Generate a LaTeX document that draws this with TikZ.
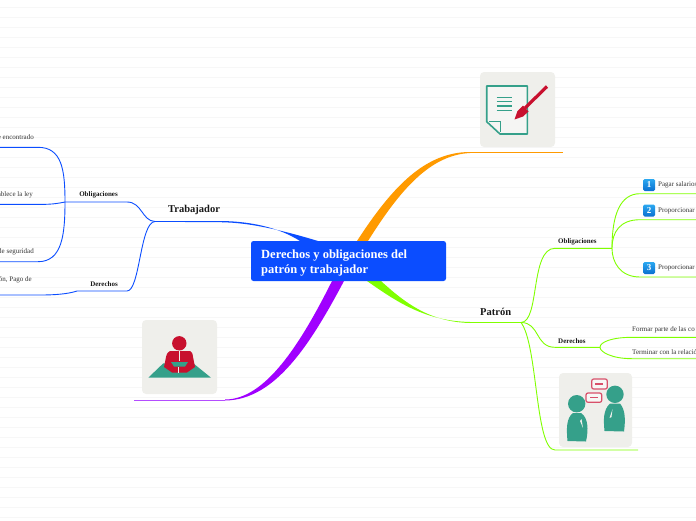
\documentclass[tikz,border=0pt]{standalone}
\usepackage{fontspec}
\setmainfont{Liberation Serif}
\definecolor{rootblue}{HTML}{0B4DFF}
\definecolor{branchorange}{HTML}{FF9A00}
\definecolor{branchgreen}{HTML}{80FF00}
\definecolor{branchpurple}{HTML}{A000FF}
\definecolor{tipline}{HTML}{B44DFF}
\definecolor{panelgrey}{HTML}{EFEFEB}
\definecolor{iconteal}{HTML}{35A08A}
\definecolor{iconred}{HTML}{C8102E}
\definecolor{bubblered}{HTML}{D8506A}
\definecolor{badgetop}{HTML}{2BA8F0}
\definecolor{badgebottom}{HTML}{0A6FD0}
\definecolor{ruled}{HTML}{F7F7F7}
\tikzset{
	topic/.style={inner sep=0pt, font=\fontsize{10.5}{12}\selectfont\bfseries, text=black!90},
	subtopic/.style={inner sep=0pt, font=\fontsize{7}{8}\selectfont\bfseries, text=black!90},
	leaf/.style={inner sep=0pt, font=\fontsize{7}{8}\selectfont, text=black!80},
	twig/.style={line width=0.9pt},
	panel/.style={fill=panelgrey, rounded corners=4pt},
	badge/.style={top color=badgetop, bottom color=badgebottom, rounded corners=1.5pt, minimum size=12pt, inner sep=0pt, text=white, font=\fontsize{9}{9}\selectfont\bfseries},
}
\begin{document}
\begin{tikzpicture}[x=1pt, y=-1pt]
	\useasboundingbox (0,0) rectangle (696,520);
	\foreach \ruley in {7.5,17.5,...,517.5}
		\draw[ruled, line width=0.7pt] (0,\ruley) -- (696,\ruley);

	\coordinate (trabJ) at (155,221.5);
	\coordinate (trabO) at (127,202);
	\coordinate (trabD) at (127,291);
	\coordinate (obliJ) at (65,202);
	\coordinate (obliA) at (38,147.3);
	\coordinate (obliB) at (38,204.4);
	\coordinate (obliC) at (38,261.7);
	\coordinate (obliAe) at (0,147.3);
	\coordinate (obliBe) at (0,204.4);
	\coordinate (obliCe) at (0,261.7);
	\coordinate (derJ) at (77,291);
	\coordinate (derE) at (0,295);
	\coordinate (patrJ) at (521,322.5);
	\coordinate (patrO) at (555,248.3);
	\coordinate (patrOJ) at (612,248.3);
	\coordinate (patrD) at (555,347.3);
	\coordinate (patrDJ) at (600,347.3);
	\coordinate (patrI) at (555,450);
	\coordinate (patrIe) at (638,450);
	\coordinate (uno) at (640,193.7);
	\coordinate (dos) at (640,219.7);
	\coordinate (tres) at (640,277);
	\coordinate (unoe) at (696,193.7);
	\coordinate (dose) at (696,219.7);
	\coordinate (trese) at (696,277);
	\coordinate (formar) at (632,337.3);
	\coordinate (terminar) at (632,358.7);
	\coordinate (formare) at (696,337.3);
	\coordinate (terminare) at (696,358.7);
	\coordinate (notaE) at (563,152.5);
	\coordinate (notaJ) at (470,152.5);
	\coordinate (jefeE) at (134,400);
	\coordinate (jefeJ) at (225,400);

	\fill[rootblue] (222,221) .. controls (250,221.5) and (278,227) .. (300,241) -- (318,241) .. controls (285,231) and (250,222.5) .. (222,222.3) -- cycle;
	\draw[rootblue, twig] (trabJ) -- (223,221.6);
	\fill[branchorange] (357,241) .. controls (392,187) and (425,152) .. (470,152) -- (470,153) .. controls (430,155) and (400,190) .. (368,241) -- cycle;
	\draw[branchorange, twig] (notaJ) -- (notaE);
	\fill[branchpurple] (332,281) .. controls (300,345) and (265,399.5) .. (225,399.5) -- (225,400.5) .. controls (275,400) and (310,345) .. (344,281) -- cycle;
	\draw[tipline, twig] (jefeJ) -- (jefeE);
	\fill[branchgreen] (367,281) .. controls (397,302) and (425,321) .. (470,322) -- (470,323) .. controls (430,322) and (405,303) .. (381,281) -- cycle;
	\draw[branchgreen, twig] (470,322.5) -- (patrJ);

	\draw[rootblue, twig] (trabJ) .. controls (142,221) and (142,202) .. (trabO) -- (obliJ);
	\draw[rootblue, twig] (trabJ) .. controls (140,222) and (140,291) .. (trabD) -- (derJ);
	\draw[rootblue, twig] (derJ) .. controls (68,294) and (55,295) .. (40,295) -- (derE);
	\draw[rootblue, twig] (obliJ) .. controls (65,170) and (62,147.3) .. (obliA) -- (obliAe);
	\draw[rootblue, twig] (obliJ) .. controls (55,204) and (50,204.4) .. (obliB) -- (obliBe);
	\draw[rootblue, twig] (obliJ) .. controls (65,235) and (62,261.7) .. (obliC) -- (obliCe);

	\draw[branchgreen, twig] (patrJ) .. controls (540,322) and (530,248.3) .. (patrO) -- (patrOJ);
	\draw[branchgreen, twig] (patrJ) .. controls (540,322.5) and (535,347.3) .. (patrD) -- (patrDJ);
	\draw[branchgreen, twig] (patrJ) .. controls (538,345) and (535,450) .. (patrI) -- (patrIe);
	\draw[branchgreen, twig] (patrOJ) .. controls (612,215) and (620,193.7) .. (uno) -- (unoe);
	\draw[branchgreen, twig] (patrOJ) .. controls (612,232) and (620,219.7) .. (dos) -- (dose);
	\draw[branchgreen, twig] (patrOJ) .. controls (612,262) and (620,277) .. (tres) -- (trese);
	\draw[branchgreen, twig] (patrDJ) .. controls (600,342) and (612,337.3) .. (formar) -- (formare);
	\draw[branchgreen, twig] (patrDJ) .. controls (600,352) and (612,358.7) .. (terminar) -- (terminare);

	\node[fill=rootblue, rounded corners=2.5pt, minimum width=195pt, minimum height=40pt, inner sep=0pt] (raiz) at (348.5,261) {};
	\node[anchor=north west, inner sep=0pt, align=left, text=white, font=\fontsize{12.5}{15}\selectfont\bfseries] (raiztxt) at (261,250) {Derechos y obligaciones del\\patrón y trabajador};

	\node[topic, anchor=west] (trabajador) at (168,209.5) {Trabajador};
	\node[subtopic, anchor=east] (obligT) at (118,195) {Obligaciones};
	\node[subtopic, anchor=east] (derechT) at (118,284) {Derechos};
	\node[leaf, anchor=east] (hoja1) at (34,137.5) {e encontrado};
	\node[leaf, anchor=east] (hoja2) at (33,195) {ablece la ley};
	\node[leaf, anchor=east] (hoja3) at (34,252) {de seguridad};
	\node[leaf, anchor=east] (hoja4) at (32,280) {ón, Pago de};

	\node[topic, anchor=west] (patron) at (480,312) {Patrón};
	\node[subtopic, anchor=west] (obligP) at (558,242) {Obligaciones};
	\node[subtopic, anchor=west] (derechP) at (558,341) {Derechos};
	\node[badge] (b1) at (649,185) {1};
	\node[badge] (b2) at (649,210.5) {2};
	\node[badge] (b3) at (649,268) {3};
	\node[leaf, anchor=west] (pagar) at (658,185) {Pagar salarios};
	\node[leaf, anchor=west] (prop1) at (658,211) {Proporcionar};
	\node[leaf, anchor=west] (prop2) at (658,268) {Proporcionar};
	\node[leaf, anchor=west] (formartxt) at (632,329.5) {Formar parte de las co};
	\node[leaf, anchor=west] (terminartxt) at (632,352) {Terminar con la relació};

	\fill[panel] (480,72) rectangle (555,147);
	\draw[iconteal, line width=1.6pt, line join=round, fill=panelgrey!60!white] (486.7,86) -- (527.3,86) -- (527.3,134) -- (500,134) -- (486.7,121.7) -- cycle;
	\draw[iconteal, line width=1.2pt] (489,121.7) -- (500.7,121.7) -- (500.7,131.7);
	\foreach \liney in {97.7,101.7,106,110.7}
		\draw[iconteal, line width=1.1pt] (496.7,\liney) -- (511.7,\liney);
	\draw[iconred, line width=3.2pt] (547,86.5) -- (525,108);
	\fill[iconred] (523,105.5) -- (528.5,111.5) -- (523,116.5) -- (514.5,119.5) -- (517.5,111) -- cycle;

	\fill[panel] (142,320) rectangle (217,394);
	\fill[iconteal] (148.3,377.7) -- (211,377.7) -- (193.3,363.3) -- (163.3,363.3) -- cycle;
	\fill[iconred] (179.3,343.3) circle (7.2pt);
	\fill[iconred] (170,351) -- (190,351) .. controls (192,352) and (192.5,353) .. (193,357) -- (195,367) -- (187,372.5) -- (172,372.5) -- (164,367) -- (166,357) .. controls (167,353) and (168,352) .. (170,351) -- cycle;
	\fill[iconteal] (171,362) -- (188,362) -- (185,366.5) -- (174,366.5) -- cycle;
	\draw[panelgrey, line width=0.7pt] (179.3,351) -- (179.3,361);
	\draw[panelgrey, line width=0.7pt] (178,367) -- (178,372.5);

	\fill[panel] (559,373) rectangle (632,447);
	\fill[iconteal] (576.7,403.7) circle (8.7pt);
	\fill[iconteal] (573,413) .. controls (566,418) and (566.5,430) .. (567.5,441) -- (586,441.5) .. controls (588.5,430) and (588.5,418) .. (581,413) -- cycle;
	\fill[iconteal] (615,394.3) circle (8.7pt);
	\fill[iconteal] (610,403.5) .. controls (603,410) and (603.5,420) .. (604.5,431) -- (624,431.5) .. controls (625.5,420) and (625.5,410) .. (620,403.5) -- cycle;
	\fill[panelgrey] (581.5,419) -- (583,428) -- (580,421) -- cycle;
	\fill[panelgrey] (612.5,409) -- (611.5,417) -- (609.5,418) -- cycle;
	\draw[bubblered, line width=1.2pt, fill=panelgrey!50!white, rounded corners=2pt] (591.7,379) rectangle (607.3,389);
	\draw[bubblered, line width=1.2pt] (595,384) -- (603,384);
	\draw[bubblered, line width=1.2pt, fill=panelgrey!50!white, rounded corners=2pt] (586,393) rectangle (601.7,402.3);
	\draw[bubblered, line width=1.2pt] (590,397.7) -- (598,397.7);
\end{tikzpicture}
\end{document}
